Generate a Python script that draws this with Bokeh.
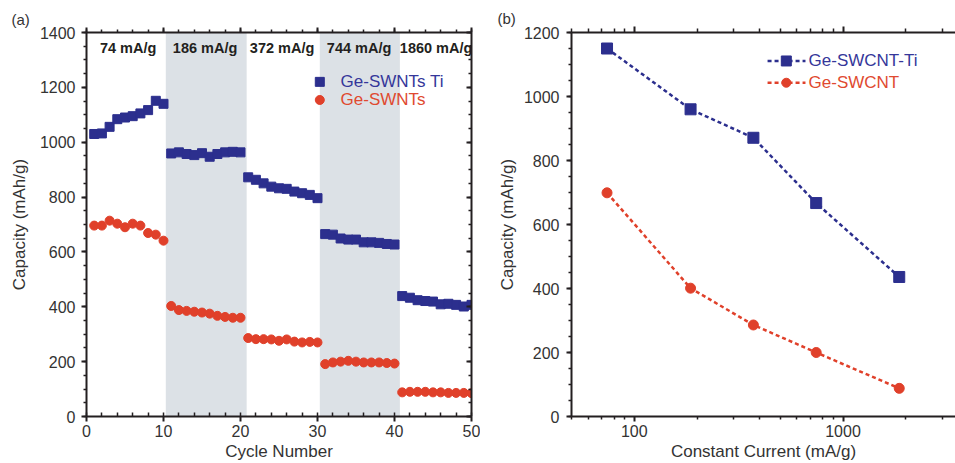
from bokeh.plotting import figure
from bokeh.layouts import row
from bokeh.models import (LinearAxis, LogAxis, SingleIntervalTicker, FixedTicker,
                          Range1d, Title, PrintfTickFormatter, CustomJSTickFormatter,
                          ColumnDataSource)
from bokeh.core.properties import value
from bokeh.embed import file_html
from bokeh.resources import INLINE

# ---------------- data: panel (a) ----------------
cycles = list(range(1, 51))
ti_capacity = [1030, 1032, 1056, 1084, 1090, 1095, 1105, 1117, 1151, 1140,
               959, 963, 957, 953, 960, 947, 957, 963, 965, 963,
               872, 863, 850, 838, 832, 830, 820, 814, 808, 796,
               665, 663, 649, 645, 645, 635, 635, 633, 629, 627,
               439, 433, 424, 421, 419, 409, 411, 407, 401, 407]
ge_capacity = [696, 696, 714, 703, 690, 703, 696, 669, 663, 641,
               403, 388, 385, 382, 379, 375, 367, 363, 360, 360,
               286, 282, 282, 281, 276, 281, 273, 270, 272, 270,
               191, 197, 200, 203, 200, 197, 197, 197, 195, 193,
               88, 90, 90, 90, 88, 88, 86, 86, 86, 85]
rate_labels = ["74 mA/g", "186 mA/g", "372 mA/g", "744 mA/g", "1860 mA/g"]
series_a = ["Ge-SWNTs Ti", "Ge-SWNTs"]

# ---------------- data: panel (b) ----------------
current = [74, 186, 372, 744, 1860]
ti_rate_capacity = [1150, 960, 871, 667, 436]
ge_rate_capacity = [699, 401, 286, 200, 88]
series_b = ["Ge-SWCNT-Ti", "Ge-SWCNT"]

BLUE = "#2c2f8e"
RED = "#e0402a"
BLUE_T = "#35379a"
RED_T = "#e04a30"
SHADE = "#dce1e6"
INK = "#231f20"
FONT = "Liberation Sans"


def style_axis(ax, label_size="16px"):
    ax.axis_line_width = 2
    ax.axis_line_color = INK
    ax.major_tick_line_width = 2
    ax.major_tick_line_color = INK
    ax.minor_tick_line_width = 1.5
    ax.minor_tick_line_color = INK
    ax.major_label_text_font = FONT
    ax.major_label_text_font_size = label_size
    ax.major_label_text_color = "#333333"
    ax.axis_label_text_font = FONT
    ax.axis_label_text_font_size = "17px"
    ax.axis_label_text_font_style = "normal"
    ax.axis_label_text_color = "#333333"


def hide_labels(ax):
    ax.formatter = CustomJSTickFormatter(code="return ''")
    ax.major_label_standoff = 0


def panel_title(text, offset):
    return Title(text=text, align="left", offset=offset, standoff=0,
                 text_font=FONT, text_font_size="15px", text_font_style="normal",
                 text_color="#333333")


# ================= panel (a) =================
p1 = figure(width=480, height=463, x_range=Range1d(0, 50), y_range=Range1d(0, 1400),
            x_axis_location=None, y_axis_location=None,
            output_backend="svg", toolbar_location=None,
            min_border_left=86, min_border_right=9, min_border_top=30, min_border_bottom=47)
p1.title = panel_title("(a)", -75)
p1.outline_line_color = None
p1.xgrid.visible = False
p1.ygrid.visible = False

def xt_a():
    return SingleIntervalTicker(interval=10, num_minor_ticks=5)

def yt_a():
    return SingleIntervalTicker(interval=200, num_minor_ticks=4)

ax_l = LinearAxis(ticker=yt_a(), axis_label="Capacity (mAh/g)")
style_axis(ax_l)
ax_l.major_tick_out = 5; ax_l.major_tick_in = 0
ax_l.minor_tick_out = 3; ax_l.minor_tick_in = 0
ax_l.major_label_standoff = 6
ax_l.axis_label_standoff = 8
p1.add_layout(ax_l, "left")

ax_b = LinearAxis(ticker=xt_a(), axis_label="Cycle Number")
style_axis(ax_b)
ax_b.major_tick_out = 5; ax_b.major_tick_in = 0
ax_b.minor_tick_out = 0; ax_b.minor_tick_in = 4
ax_b.major_label_standoff = 3
ax_b.axis_label_standoff = 2
p1.add_layout(ax_b, "below")

ax_t = LinearAxis(ticker=xt_a())
style_axis(ax_t)
hide_labels(ax_t)
ax_t.major_tick_out = 5; ax_t.major_tick_in = 0
ax_t.minor_tick_out = 3; ax_t.minor_tick_in = 0
p1.add_layout(ax_t, "above")

ax_r = LinearAxis(ticker=yt_a())
style_axis(ax_r)
hide_labels(ax_r)
ax_r.major_tick_out = 0; ax_r.major_tick_in = 5
ax_r.minor_tick_out = 0; ax_r.minor_tick_in = 3
p1.add_layout(ax_r, "right")

# shaded rate blocks (cycles 11-20 and 31-40)
p1.quad(left=[10.3, 30.3], right=[20.8, 40.7], bottom=[0, 0], top=[1400, 1400],
        fill_color=SHADE, line_color=None)

src_a = ColumnDataSource(dict(cycle=cycles, ti=ti_capacity, ge=ge_capacity))
p1.scatter("cycle", "ti", source=src_a, marker="square", size=9,
           fill_color=BLUE, line_color=BLUE)
p1.scatter("cycle", "ge", source=src_a, marker="circle", size=9,
           fill_color=RED, line_color=RED)

# rate labels, centred on each 10-cycle block
label_x = [10 * i + 5.4 for i in range(len(rate_labels))]
p1.text(x=label_x, y=[1343] * len(rate_labels), text=rate_labels,
        text_font=value(FONT), text_font_size="14.5px", text_font_style="bold",
        text_color=INK, text_align="center", text_baseline="middle")

# legend (a)
p1.scatter(x=[30.3], y=[1220], marker="square", size=9, fill_color=BLUE, line_color=BLUE)
p1.scatter(x=[30.3], y=[1154], marker="circle", size=9, fill_color=RED, line_color=RED)
p1.text(x=[33.0, 33.0], y=[1220, 1154], text=series_a,
        text_font=value(FONT), text_font_size="17px",
        text_color=[BLUE_T, RED_T], text_align="left", text_baseline="middle")

# ================= panel (b) =================
p2 = figure(width=475, height=463, x_axis_type="log",
            x_range=Range1d(50, 3460), y_range=Range1d(0, 1200),
            x_axis_location=None, y_axis_location=None,
            output_backend="svg", toolbar_location=None,
            min_border_left=91, min_border_right=0, min_border_top=32, min_border_bottom=44)
p2.title = panel_title("(b)", -74)
p2.outline_line_color = None
p2.xgrid.visible = False
p2.ygrid.visible = False

major_b = [100, 1000]
minor_b = [m * d for d in (10, 100, 1000) for m in range(2, 10)]

def xt_b():
    return FixedTicker(ticks=major_b, minor_ticks=minor_b)

bl = LinearAxis(ticker=SingleIntervalTicker(interval=200, num_minor_ticks=4),
                axis_label="Capacity (mAh/g)")
style_axis(bl)
bl.major_tick_out = 5; bl.major_tick_in = 0
bl.minor_tick_out = 3; bl.minor_tick_in = 0
bl.major_label_standoff = 7
bl.axis_label_standoff = 4
p2.add_layout(bl, "left")

bb = LogAxis(ticker=xt_b(), formatter=PrintfTickFormatter(format="%d"),
             axis_label="Constant Current (mA/g)")
style_axis(bb)
bb.major_tick_out = 5; bb.major_tick_in = 0
bb.minor_tick_out = 3; bb.minor_tick_in = 0
bb.major_label_standoff = 3
bb.axis_label_standoff = 2
p2.add_layout(bb, "below")

bt = LogAxis(ticker=xt_b())
style_axis(bt)
hide_labels(bt)
bt.major_tick_out = 6; bt.major_tick_in = 0
bt.minor_tick_out = 4; bt.minor_tick_in = 0
p2.add_layout(bt, "above")

src_b = ColumnDataSource(dict(cur=current, ti=ti_rate_capacity, ge=ge_rate_capacity))
p2.line("cur", "ti", source=src_b, line_color=BLUE, line_width=2.5, line_dash="4 3")
p2.line("cur", "ge", source=src_b, line_color=RED, line_width=2.5, line_dash="4 3")
p2.scatter("cur", "ti", source=src_b, marker="square", size=11,
           fill_color=BLUE, line_color=BLUE)
p2.scatter("cur", "ge", source=src_b, marker="circle", size=10,
           fill_color=RED, line_color=RED)

# legend (b)
p2.line(x=[435, 661], y=[1111, 1111], line_color=BLUE, line_width=2.5, line_dash="4 3")
p2.line(x=[435, 661], y=[1043, 1043], line_color=RED, line_width=2.5, line_dash="4 3")
p2.scatter(x=[535], y=[1111], marker="square", size=10, fill_color=BLUE, line_color=BLUE)
p2.scatter(x=[535], y=[1043], marker="circle", size=9, fill_color=RED, line_color=RED)
p2.text(x=[684, 684], y=[1111, 1043], text=series_b,
        text_font=value(FONT), text_font_size="17px",
        text_color=[BLUE_T, RED_T], text_align="left", text_baseline="middle")

layout = row(p1, p2)
open("out.html", "w").write(file_html(layout, INLINE))
